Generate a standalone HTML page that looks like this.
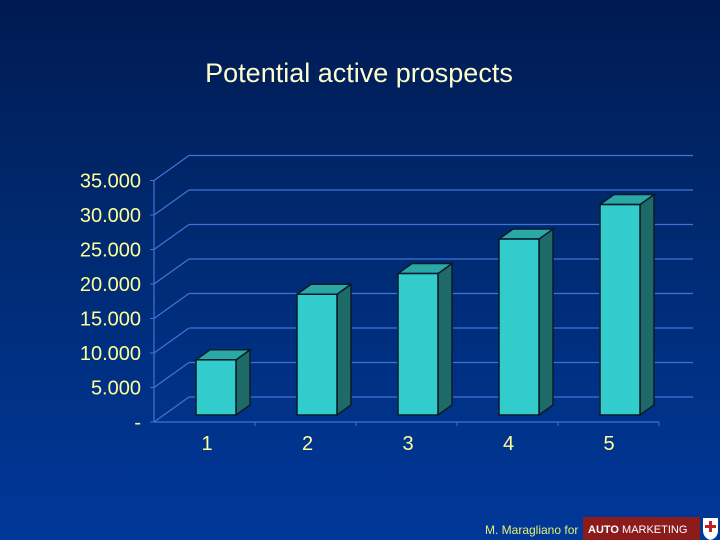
<!DOCTYPE html>
<html><head><meta charset="utf-8"><style>
html,body{margin:0;padding:0}
body{width:720px;height:540px;overflow:hidden;background:linear-gradient(#001a52 0%,#00296e 40%,#00389a 100%);font-family:"Liberation Sans",sans-serif;position:relative}
</style></head><body>
<svg width="720" height="540" style="position:absolute;left:0;top:0">
<text x="359" y="82" text-anchor="middle" fill="#ffffcc" font-size="27">Potential active prospects</text>
<g id="grid"></g><g id="bars"></g><g id="labels"></g>
<text x="485" y="534" fill="#e8f070" font-size="12">M. Maragliano for</text>
<rect x="583" y="517" width="117" height="23" fill="#8c1c1c"/>
<text x="588" y="533" fill="#fff" font-size="11" font-weight="bold">AUTO <tspan font-weight="normal">MARKETING</tspan></text>
<path d="M703 518 h15 v12 q0 8 -7.5 10 q-7.5 -2 -7.5 -10z" fill="#fff"/>
<path d="M709 521h3v4h4v3h-4v4h-3v-4h-4v-3h4z" fill="#c02020"/>
</svg>
<script>
const categories=["1","2","3","4","5"];
const values=[8000,17500,20500,25500,30500];
const yTicks=[0,5000,10000,15000,20000,25000,30000,35000];
const yTickLabels=["-","5.000","10.000","15.000","20.000","25.000","30.000","35.000"];
const NS="http://www.w3.org/2000/svg";
function mk(tag,attrs,parent){const e=document.createElementNS(NS,tag);for(const k in attrs)e.setAttribute(k,attrs[k]);parent.appendChild(e);return e;}
const scale=34.5/5000;
function yBack(v){return 397-v*scale;}
function yFront(v){return 422-v*scale;}
function yBar(v){return 415-v*scale;}
function xBar(i){return 196+101*i;}
const grid=document.getElementById('grid'),bars=document.getElementById('bars'),labels=document.getElementById('labels');
const gc="#3f74d6";
yTicks.forEach((t,i)=>{
  const yb=yBack(t);
  let l=mk('line',{x1:189,y1:yb,x2:693,y2:yb,stroke:gc,'stroke-width':1.2},grid);
  
  
  mk('line',{x1:154,y1:yb+25,x2:189,y2:yb,stroke:gc,'stroke-width':1.2},grid);
  mk('line',{x1:150,y1:yb+25,x2:154,y2:yb+25,stroke:gc},grid);
  let tx=mk('text',{x:141,y:yFront(t)+7,'text-anchor':'end',fill:'#ffff99','font-size':20},labels);
  tx.textContent=yTickLabels[i];
  
  
});
mk('line',{x1:154,y1:yFront(yTicks[yTicks.length-1]),x2:154,y2:422,stroke:gc,'stroke-width':1.2},grid);
mk('line',{x1:154,y1:422,x2:659,y2:422,stroke:gc,'stroke-width':1.2},grid);
for(let i=1;i<=5;i++){const x=154+101*i;mk('line',{x1:x,y1:422,x2:x,y2:426,stroke:gc},grid);}
values.forEach((v,i)=>{
  const x=xBar(i),w=40,top=yBar(v),b=415,dx=14,dy=10;
  const g=mk('g',{},bars);
  
  
  mk('polygon',{points:`${x+w},${top} ${x+w+dx},${top-dy} ${x+w+dx},${b-dy} ${x+w},${b}`,fill:'#1e6a68',stroke:'#0a1a2a','stroke-width':1.5},g);
  mk('polygon',{points:`${x},${top} ${x+dx},${top-dy} ${x+w+dx},${top-dy} ${x+w},${top}`,fill:'#2aa8a6',stroke:'#0a1a2a','stroke-width':1.5},g);
  mk('rect',{x:x,y:top,width:w,height:b-top,fill:'#33cccc',stroke:'#0a1a2a','stroke-width':1.5},g);
  let tx=mk('text',{x:207+100.5*i,y:450,'text-anchor':'middle',fill:'#ffff99','font-size':20},labels);
  tx.textContent=categories[i];
  
  
});
</script>
</body></html>
